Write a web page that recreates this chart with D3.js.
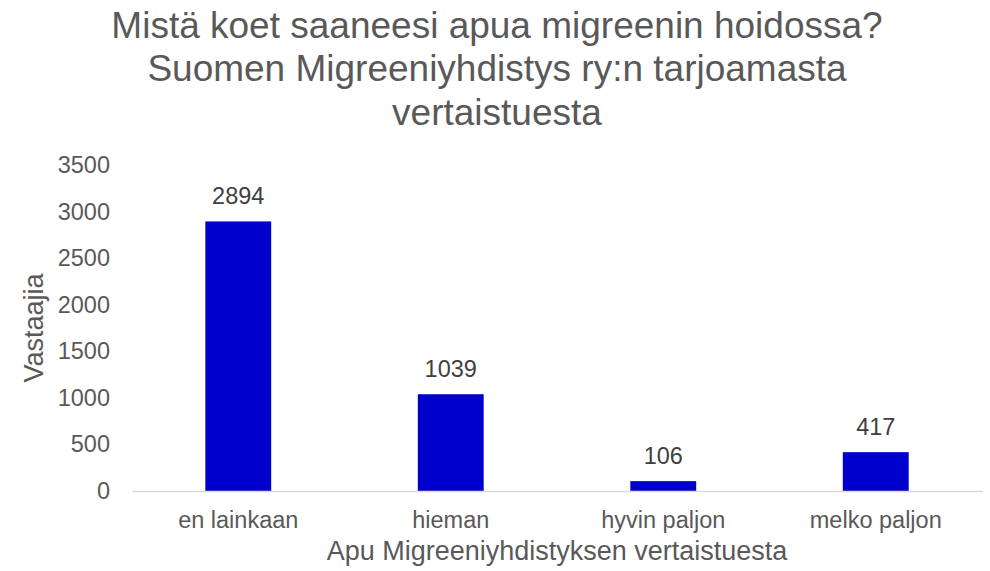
<!DOCTYPE html>
<html>
<head>
<meta charset="utf-8">
<script src="https://cdn.jsdelivr.net/npm/d3@7"></script>
<style>
  body { margin: 0; background: #fff; }
  text { font-family: "Liberation Sans", Arial, sans-serif; }
</style>
</head>
<body>
<div id="chart"></div>
<script>
const categories = ['en lainkaan', 'hieman', 'hyvin paljon', 'melko paljon'];
const values = [2894, 1039, 106, 417];
const yTicks = [0, 500, 1000, 1500, 2000, 2500, 3000, 3500];
const titleLines = [
    'Mistä koet saaneesi apua migreenin hoidossa?',
    'Suomen Migreeniyhdistys ry:n tarjoamasta',
    'vertaistuesta'
];
const xTitle = 'Apu Migreeniyhdistyksen vertaistuesta';
const yTitle = 'Vastaajia';

const width = 990, height = 571;
const margin = {top: 165, right: 8, bottom: 80, left: 132};

const svg = d3.select('#chart')
    .append('svg')
    .attr('width', width)
    .attr('height', height)
    .attr('viewBox', `0 0 ${width} ${height}`);

svg.append('rect').attr('width', width).attr('height', height).attr('fill', '#fff');

const x = d3.scaleBand()
    .domain(categories)
    .range([margin.left, width - margin.right])
    .paddingInner(0.69)
    .paddingOuter(0.345);

const y = d3.scaleLinear()
    .domain([0, 3500])
    .range([height - margin.bottom, margin.top]);

// title
svg.append('g')
    .selectAll('text')
    .data(titleLines)
    .join('text')
    .attr('x', 497)
    .attr('y', (d, i) => 37.5 + i * 43.5)
    .attr('text-anchor', 'middle')
    .attr('fill', '#595959')
    .attr('font-size', 37)
    .text(d => d);

// y axis labels
const yAxis = svg.append('g')
    .attr('transform', `translate(${margin.left},0)`)
    .call(d3.axisLeft(y).tickValues(yTicks).tickFormat(d3.format('d')).tickSize(0).tickPadding(22));
yAxis.select('.domain').remove();
yAxis.selectAll('text')
    .attr('font-size', 23.5)
    .attr('fill', '#595959')
    .style('font-family', '"Liberation Sans", Arial, sans-serif');

// bars
svg.append('g')
    .selectAll('rect')
    .data(values)
    .join('rect')
    .attr('x', (d, i) => x(categories[i]))
    .attr('y', d => y(d))
    .attr('width', x.bandwidth())
    .attr('height', d => y(0) - y(d))
    .attr('fill', '#0000cc');

// x axis
const xAxis = svg.append('g')
    .attr('transform', `translate(0,${y(0)})`)
    .call(d3.axisBottom(x).tickSize(0).tickPadding(0).tickSizeOuter(0));
xAxis.select('.domain')
    .attr('stroke', '#d9d9d9')
    .attr('stroke-width', 1.5);
xAxis.selectAll('text')
    .attr('dy', null)
    .attr('y', 36.5)
    .attr('font-size', 23.5)
    .attr('fill', '#595959')
    .style('font-family', '"Liberation Sans", Arial, sans-serif');

// data labels
svg.append('g')
    .selectAll('text')
    .data(values)
    .join('text')
    .attr('x', (d, i) => x(categories[i]) + x.bandwidth() / 2)
    .attr('y', d => y(d) - 17)
    .attr('text-anchor', 'middle')
    .attr('fill', '#404040')
    .attr('font-size', 23.5)
    .text(d => d);

// axis titles
svg.append('text')
    .attr('x', (margin.left + width - margin.right) / 2)
    .attr('y', 560)
    .attr('text-anchor', 'middle')
    .attr('fill', '#595959')
    .attr('font-size', 27)
    .text(xTitle);

svg.append('text')
    .attr('transform', `translate(43,${(y(0) + y(3500)) / 2}) rotate(-90)`)
    .attr('text-anchor', 'middle')
    .attr('fill', '#595959')
    .attr('font-size', 27)
    .text(yTitle);
</script>
</body>
</html>
